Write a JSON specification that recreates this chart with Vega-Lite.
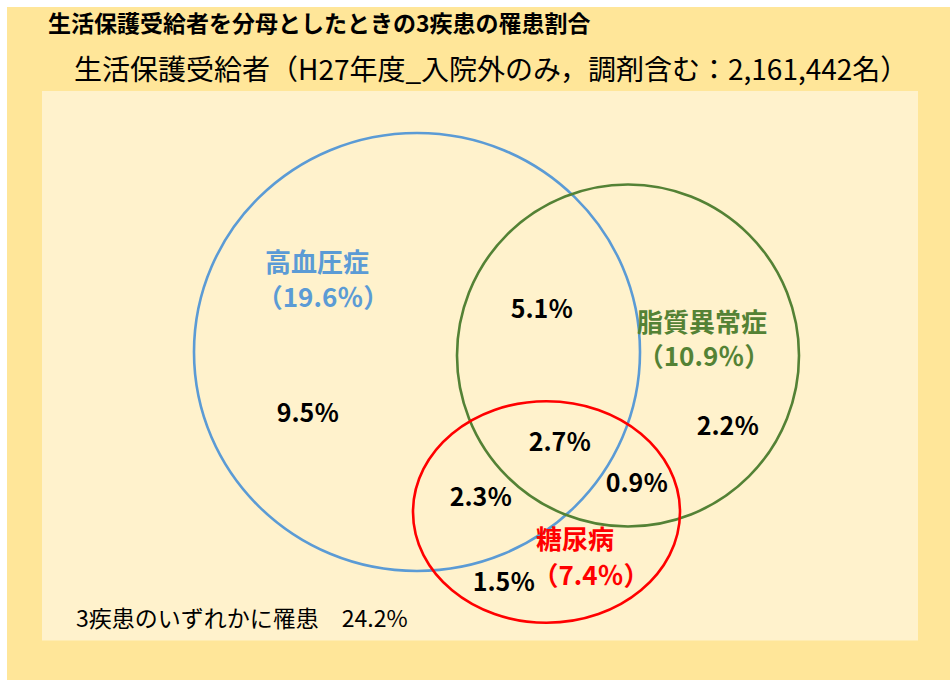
{
  "$schema": "https://vega.github.io/schema/vega-lite/v6.json",
  "width": 950,
  "height": 680,
  "autosize": {"type": "fit", "contains": "padding"},
  "padding": 0,
  "background": "white",
  "config": {"view": {"stroke": null}, "font": "Noto Sans CJK JP"},
  "datasets": {
    "panels": [
      {"panel": "outer", "left": 0.7, "right": 95, "top": 0.7, "bottom": 68},
      {"panel": "inner", "left": 4.2, "right": 91.8, "top": 9.1, "bottom": 64.05}
    ],
    "circles": [
      {"disease": "高血圧症", "pct": 19.6, "x": 41.7, "y": 35.2},
      {"disease": "脂質異常症", "pct": 10.9, "x": 62.8, "y": 35.55},
      {"disease": "糖尿病", "pct": 7.4, "x": 54.65, "y": 51.2}
    ],
    "names": [
      {"text": "高血圧症", "disease": "高血圧症", "x": 31.7, "y": 26.4},
      {"text": "（19.6％）", "disease": "高血圧症", "x": 32.3, "y": 29.9},
      {"text": "脂質異常症", "disease": "脂質異常症", "x": 70.2, "y": 32.4},
      {"text": "（10.9％）", "disease": "脂質異常症", "x": 70.4, "y": 35.8},
      {"text": "糖尿病", "disease": "糖尿病", "x": 57.5, "y": 54.1},
      {"text": "（7.4％）", "disease": "糖尿病", "x": 59.1, "y": 57.7}
    ],
    "regions": [
      {"text": "9.5％", "x": 30.8, "y": 41.4},
      {"text": "5.1％", "x": 54.2, "y": 31.0},
      {"text": "2.2％", "x": 72.8, "y": 42.7},
      {"text": "2.7％", "x": 56.0, "y": 44.3},
      {"text": "2.3％", "x": 48.1, "y": 49.8},
      {"text": "0.9％", "x": 63.7, "y": 48.4},
      {"text": "1.5％", "x": 50.4, "y": 58.3}
    ]
  },
  "layer": [
    {
      "data": {"name": "panels"},
      "mark": {"type": "rect"},
      "encoding": {
        "x": {"field": "left", "type": "quantitative", "axis": null, "scale": {"domain": [0, 95], "nice": false, "zero": false}},
        "x2": {"field": "right"},
        "y": {"field": "top", "type": "quantitative", "axis": null, "scale": {"domain": [0, 68], "nice": false, "zero": false, "reverse": true}},
        "y2": {"field": "bottom"},
        "fill": {"field": "panel", "type": "nominal", "legend": null, "scale": {"domain": ["outer", "inner"], "range": ["#FFE699", "#FFF2CC"]}}
      }
    },
    {
      "data": {"name": "circles"},
      "mark": {"type": "point", "filled": false, "strokeWidth": 2.6, "opacity": 1},
      "encoding": {
        "x": {"field": "x", "type": "quantitative", "axis": null, "scale": {"domain": [0, 95], "nice": false, "zero": false}},
        "y": {"field": "y", "type": "quantitative", "axis": null, "scale": {"domain": [0, 68], "nice": false, "zero": false, "reverse": true}},
        "color": {"field": "disease", "type": "nominal", "legend": null,
          "scale": {"domain": ["高血圧症", "脂質異常症", "糖尿病"], "range": ["#5B9BD5", "#548235", "#FF0000"]}},
        "shape": {"field": "disease", "type": "nominal", "legend": null,
          "scale": {"domain": ["高血圧症", "脂質異常症", "糖尿病"],
            "range": ["M-1,0A1,0.982 0 1,1 1,0A1,0.982 0 1,1 -1,0Z", "circle", "M-1,0A1,0.83 0 1,1 1,0A1,0.83 0 1,1 -1,0Z"]}},
        "size": {"field": "pct", "type": "quantitative", "legend": null,
          "scale": {"type": "linear", "domain": [7.4, 10.9, 19.6], "range": [71289, 116964, 198916]}}
      }
    },
    {
      "data": {"name": "names"},
      "mark": {"type": "text", "fontSize": 26, "fontWeight": "bold", "align": "center", "baseline": "middle"},
      "encoding": {
        "x": {"field": "x", "type": "quantitative", "axis": null, "scale": {"domain": [0, 95], "nice": false, "zero": false}},
        "y": {"field": "y", "type": "quantitative", "axis": null, "scale": {"domain": [0, 68], "nice": false, "zero": false, "reverse": true}},
        "text": {"field": "text"},
        "color": {"field": "disease", "type": "nominal", "legend": null,
          "scale": {"domain": ["高血圧症", "脂質異常症", "糖尿病"], "range": ["#5B9BD5", "#548235", "#FF0000"]}}
      }
    },
    {
      "data": {"name": "regions"},
      "mark": {"type": "text", "fontSize": 25, "fontWeight": "bold", "align": "center", "baseline": "middle", "color": "#000000"},
      "encoding": {
        "x": {"field": "x", "type": "quantitative", "axis": null, "scale": {"domain": [0, 95], "nice": false, "zero": false}},
        "y": {"field": "y", "type": "quantitative", "axis": null, "scale": {"domain": [0, 68], "nice": false, "zero": false, "reverse": true}},
        "text": {"field": "text"}
      }
    },
    {
      "data": {"values": [{"text": "生活保護受給者を分母としたときの3疾患の罹患割合", "x": 4.8, "y": 2.5}]},
      "mark": {"type": "text", "fontSize": 23, "fontWeight": "bold", "align": "left", "baseline": "middle", "color": "#000000"},
      "encoding": {
        "x": {"field": "x", "type": "quantitative", "axis": null, "scale": {"domain": [0, 95], "nice": false, "zero": false}},
        "y": {"field": "y", "type": "quantitative", "axis": null, "scale": {"domain": [0, 68], "nice": false, "zero": false, "reverse": true}},
        "text": {"field": "text"}
      }
    },
    {
      "data": {"values": [{"text": "生活保護受給者（H27年度_入院外のみ，調剤含む：2,161,442名）", "x": 7.4, "y": 7.15}]},
      "mark": {"type": "text", "fontSize": 28, "align": "left", "baseline": "middle", "color": "#000000"},
      "encoding": {
        "x": {"field": "x", "type": "quantitative", "axis": null, "scale": {"domain": [0, 95], "nice": false, "zero": false}},
        "y": {"field": "y", "type": "quantitative", "axis": null, "scale": {"domain": [0, 68], "nice": false, "zero": false, "reverse": true}},
        "text": {"field": "text"}
      }
    },
    {
      "data": {"values": [{"text": "3疾患のいずれかに罹患　24.2%", "x": 7.6, "y": 62.0}]},
      "mark": {"type": "text", "fontSize": 23, "align": "left", "baseline": "middle", "color": "#000000"},
      "encoding": {
        "x": {"field": "x", "type": "quantitative", "axis": null, "scale": {"domain": [0, 95], "nice": false, "zero": false}},
        "y": {"field": "y", "type": "quantitative", "axis": null, "scale": {"domain": [0, 68], "nice": false, "zero": false, "reverse": true}},
        "text": {"field": "text"}
      }
    }
  ]
}
